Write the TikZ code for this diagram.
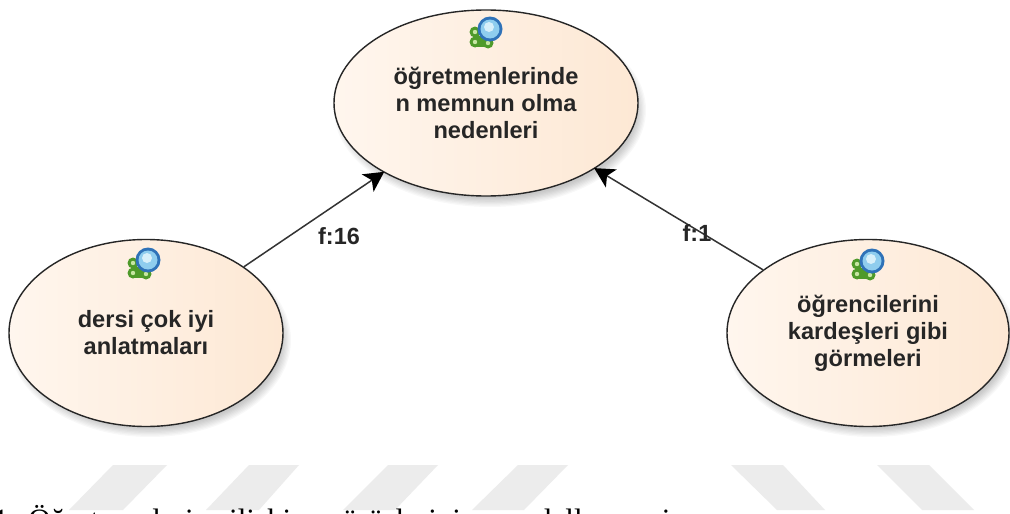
\documentclass[tikz,border=0pt]{standalone}
\usepackage{fontspec}
\setmainfont{Liberation Serif}
\newfontfamily\lblfont{Liberation Sans}
\usetikzlibrary{shapes.geometric,arrows.meta}
\definecolor{wm}{HTML}{ECECEC}
\definecolor{inkc}{HTML}{262626}
\definecolor{peachl}{HTML}{FFF6EE}
\definecolor{peachr}{HTML}{FDE8D4}
\definecolor{iconrim}{HTML}{2F72B8}
\definecolor{iconglass}{HTML}{8FCDEE}
\definecolor{iconshine}{HTML}{D8F0FA}
\definecolor{icongreen}{HTML}{4F9A2A}
\definecolor{iconleaf}{HTML}{C6E6A2}
\tikzset{
  conc/.style={ellipse,draw=black!85,line width=1.4pt,left color=peachl,right color=peachr,
    inner sep=0pt,align=center,font=\lblfont\bfseries\fontsize{23.6}{27}\selectfont,text=inkc},
  edgelbl/.style={font=\lblfont\bfseries\fontsize{23.4}{27}\selectfont,text=inkc,inner sep=0pt},
  linkarrow/.style={draw=black!80,line width=1.5pt,-{Stealth[length=20pt,width=21pt,inset=5pt,color=black]},shorten >=-1pt},
  stripe/.style={fill=wm,draw=none}
}
\newcommand{\softshadow}[4]{%
  \foreach \k in {0,...,7}{
    \fill[black,opacity=0.028] (#1+4,#2+7) ellipse ({#3+4-\k*1.3} and {#4+4-\k*1.3});
  }}
\newcommand{\conceptmark}[2]{%
  \begin{scope}[shift={(#1,#2)}]
    \fill[icongreen] (-13,4) rectangle (6,15);
    \foreach \gx/\gy in {-11/0,-11/10,2/11}{
      \fill[icongreen] (\gx,\gy) circle (5.5);
      \fill[iconleaf] (\gx,\gy) circle (2.2);
    }
    \fill[iconrim] (4,-3) circle (12.5);
    \fill[iconglass] (4,-3) circle (9.5);
    \fill[iconshine] (3,-5) circle (5);
  \end{scope}}
\begin{document}
\begin{tikzpicture}[x=1pt,y=-1pt]
  \clip (0,0) rectangle (1010,514);
  \fill[white] (0,0) rectangle (1010,514);
  % watermark
  \fill[stripe] (113,465) -- (167,465) -- (123,510) -- (69,510) -- cycle;
  \fill[stripe] (249,465) -- (299,465) -- (259,510) -- (206,510) -- cycle;
  \fill[stripe] (388,465) -- (438,465) -- (395,510) -- (343,510) -- cycle;
  \fill[stripe] (518,465) -- (568,465) -- (524,510) -- (472,510) -- cycle;
  \fill[stripe] (731,465) -- (783,465) -- (825,510) -- (777,510) -- cycle;
  \fill[stripe] (877,465) -- (929,465) -- (974,510) -- (922,510) -- cycle;
  % shadows
  \softshadow{486}{103}{152}{93}
  \softshadow{146}{333}{137}{93}
  \softshadow{868}{333}{141}{93}
  % concepts
  \node[conc,minimum width=304pt,minimum height=186pt] (top) at (486,103) {öğretmenlerinde\\n memnun olma\\nedenleri};
  \node[conc,minimum width=274pt,minimum height=187pt] (left) at (146,333) {dersi çok iyi\\anlatmaları};
  \node[conc,minimum width=282pt,minimum height=187pt] (right) at (868,333) {öğrencilerini\\kardeşleri gibi\\görmeleri};
  % icons
  \conceptmark{486}{32}
  \conceptmark{144}{263}
  \conceptmark{868}{264}
  % connectors
  \draw[linkarrow] (left) -- (top);
  \draw[linkarrow] (right) -- (top);
  \node[edgelbl] (lblA) at (339,236) {f:16};
  \node[edgelbl] (lblB) at (697,233) {f:1};
  % caption (cut by the lower edge)
  \node[anchor=base west,inner sep=0pt,font=\fontsize{31}{36}\selectfont] (cap) at (-7,530)
    {\spaceskip=20pt 1.\hskip 12pt Öğretmenlerin ilişkin görüşlerinin modellenmesi};
\end{tikzpicture}
\end{document}
